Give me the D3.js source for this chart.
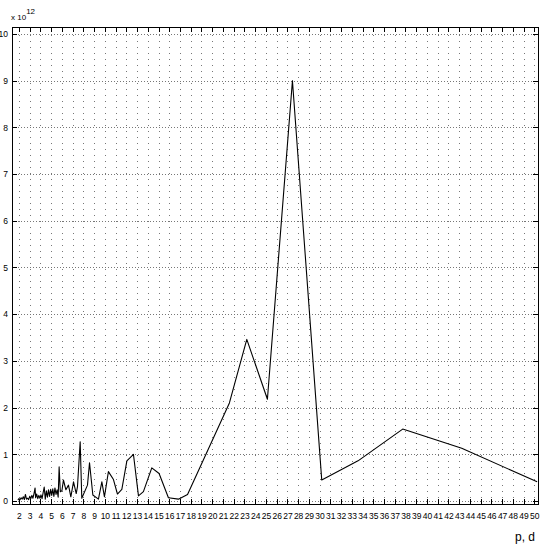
<!DOCTYPE html>
<html>
<head>
<meta charset="utf-8">
<script src="https://cdn.jsdelivr.net/npm/d3@7"></script>
<style>
  body { margin: 0; background: #fff; }
  svg { display: block; font-family: "Liberation Sans Narrow", "Liberation Sans", Arial, sans-serif; }
  .grid line { stroke: #777; stroke-width: 1; shape-rendering: crispEdges; }
  .grid path { display: none; }
  .ax path, .ax line { stroke: #000; shape-rendering: crispEdges; }
  .ax text { font-size: 8.5px; fill: #000; }
</style>
</head>
<body>
<svg width="545" height="545"></svg>
<script>
// p, d values (x) and the quantity in units of 1e12 (y)
var pdVals = [1.9, 2.0, 2.1, 2.2, 2.3, 2.4, 2.5, 2.6, 2.7, 2.8, 2.9, 3.0, 3.1, 3.2, 3.3, 3.4, 3.5,
	3.55, 3.65, 3.75, 3.85, 3.95, 4.05, 4.15, 4.25, 4.35, 4.45, 4.55, 4.65, 4.75, 4.85, 4.95,
	5.05, 5.15, 5.25, 5.35, 5.45, 5.55, 5.65, 5.74, 5.85, 6.0, 6.14, 6.37, 6.61, 6.83, 7.08,
	7.33, 7.45, 7.7, 7.85, 8.38, 8.57, 8.88, 9.4, 9.72, 9.96, 10.33, 10.8, 11.17, 11.58, 12.05,
	12.66, 13.13, 13.59, 14.37, 15.05, 15.92, 16.85, 17.7, 21.6, 23.22, 25.14, 27.47, 30.2,
	33.58, 37.74, 43.24, 50.26];
var values = [0.02, 0.05, 0.03, 0.07, 0.04, 0.09, 0.03, 0.14, 0.04, 0.06, 0.03, 0.1, 0.05, 0.12, 0.06, 0.16, 0.28,
	0.07, 0.15, 0.05, 0.12, 0.06, 0.13, 0.05, 0.18, 0.3, 0.04, 0.22, 0.08, 0.24, 0.1, 0.25,
	0.12, 0.26, 0.1, 0.28, 0.14, 0.24, 0.08, 0.73, 0.2, 0.22, 0.45, 0.24, 0.34, 0.09, 0.41,
	0.16, 0.31, 1.27, 0.06, 0.34, 0.82, 0.13, 0.04, 0.41, 0.09, 0.63, 0.46, 0.15, 0.25, 0.86,
	1.0, 0.11, 0.2, 0.71, 0.59, 0.07, 0.04, 0.14, 2.1, 3.46, 2.18, 9.0, 0.45,
	0.86, 1.54, 1.13, 0.41];
var xTicks = d3.range(2, 51);
var yTicks = d3.range(0, 11);

var data = pdVals.map(function(p, i){ return {p: p, v: values[i]}; });

var svg = d3.select("svg");
var x = d3.scaleLinear().domain([1.35, 50.37]).range([12, 538.3]);
var y = d3.scaleLinear().domain([-0.064, 10.16]).range([504, 26.5]);
var yTop = y.range()[1], yBot = y.range()[0], xLeft = x.range()[0], xRight = x.range()[1];

// dotted grid
svg.append("g").attr("class", "grid")
	.attr("transform", "translate(0," + yBot + ")")
	.call(d3.axisBottom(x).tickValues(xTicks).tickSize(-(yBot - yTop)).tickFormat(""))
	.selectAll("line").style("stroke-dasharray", "1,5");
svg.append("g").attr("class", "grid")
	.attr("transform", "translate(" + xLeft + ",0)")
	.call(d3.axisLeft(y).tickValues(yTicks).tickSize(-(xRight - xLeft)).tickFormat(""))
	.selectAll("line").style("stroke-dasharray", "1,2");

// line
var line = d3.line().x(d => x(d.p)).y(d => y(d.v));
svg.append("path").datum(data)
	.attr("d", line)
	.attr("fill", "none")
	.attr("stroke", "#000")
	.attr("stroke-width", 1.1)
	.attr("stroke-linejoin", "round");

// axes with inside ticks
svg.append("g").attr("class", "ax")
	.attr("transform", "translate(0," + yBot + ")")
	.call(d3.axisBottom(x).tickValues(xTicks).tickSizeInner(-5).tickSizeOuter(0).tickPadding(9));
svg.append("g").attr("class", "ax")
	.attr("transform", "translate(0," + yTop + ")")
	.call(d3.axisTop(x).tickValues(xTicks).tickSizeInner(-5).tickSizeOuter(0).tickFormat(""));
svg.append("g").attr("class", "ax")
	.attr("transform", "translate(" + xLeft + ",0)")
	.call(d3.axisLeft(y).tickValues(yTicks).tickSizeInner(-5).tickSizeOuter(0).tickPadding(4));
svg.append("g").attr("class", "ax")
	.attr("transform", "translate(" + xRight + ",0)")
	.call(d3.axisRight(y).tickValues(yTicks).tickSizeInner(-5).tickSizeOuter(0).tickFormat(""));

// exponent label
var ex = svg.append("text").attr("x", 11).attr("y", 19.5)
	.style("font-size", "8px");
ex.append("tspan").text("x 10");
ex.append("tspan").attr("dy", -6).text("12");

// x label
svg.append("text").attr("x", 535).attr("y", 541)
	.attr("text-anchor", "end")
	.style("font-size", "12px")
	.text("p, d");
</script>
</body>
</html>
